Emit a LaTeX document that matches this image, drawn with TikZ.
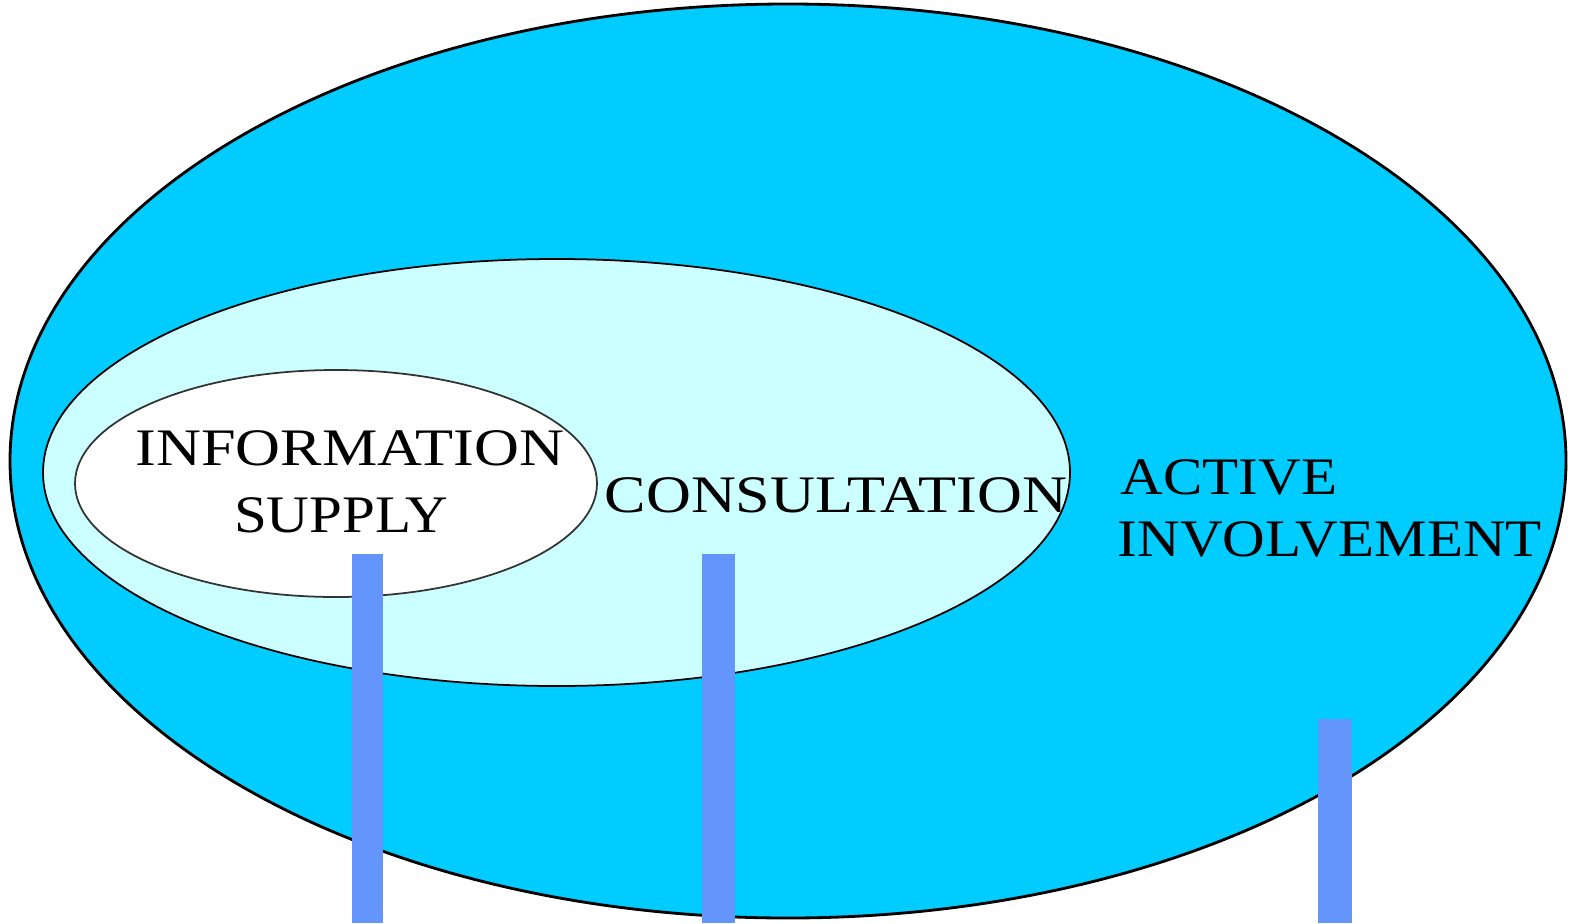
\documentclass[tikz,border=0pt]{standalone}
\usepackage{fontspec}
\newfontfamily\labelfont[FakeStretch=1.12]{Liberation Serif}
\newfontfamily\widelabelfont[FakeStretch=1.18]{Liberation Serif}
\usetikzlibrary{positioning}
\definecolor{outerblue}{RGB}{0,204,255}
\definecolor{paleblue}{RGB}{204,255,255}
\definecolor{barblue}{RGB}{100,149,250}
\tikzset{label/.style={font=\labelfont\fontsize{15}{18}\selectfont,inner sep=0pt},
  widelabel/.style={label,font=\widelabelfont\fontsize{15}{18}\selectfont}}

\begin{document}
\begin{tikzpicture}[x=0.1mm,y=-0.1mm]
\useasboundingbox (0,0) rectangle (1573,923);
\coordinate (O) at (788,461);
\coordinate (C) at (556.5,472.5);
\coordinate (I) at (336,483.5);
\filldraw[fill=outerblue,line width=0.8pt] (O) ellipse[x radius=778,y radius=457];
\filldraw[fill=paleblue,line width=0.5pt] (C) ellipse[x radius=513.5,y radius=213.5];
\filldraw[fill=white,draw=black!80,line width=0.5pt] (I) ellipse[x radius=261,y radius=113.5];
\node[widelabel,anchor=base] (info) at (350,465) {INFORMATION};
\node[label,anchor=base] (supply) at (341,532) {SUPPLY};
\node[widelabel,anchor=base] (cons) at (836,512) {CONSULTATION};
\node[label,anchor=base west] (act) at (1120,494) {ACTIVE};
\node[label,anchor=base west] (inv) at (1117,556) {INVOLVEMENT};
\fill[barblue] (352,554) rectangle (383,923);
\fill[barblue] (702,554) rectangle (735,923);
\fill[barblue] (1318,719) rectangle (1352,923);
\end{tikzpicture}
\end{document}
